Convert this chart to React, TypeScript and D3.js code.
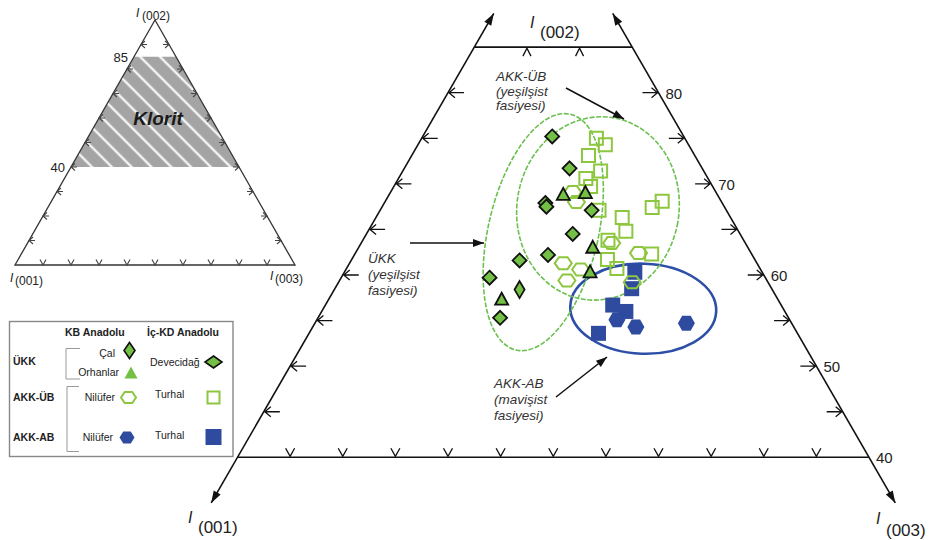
import React from 'react';
import * as d3 from 'd3';

type T3 = [number, number, number]; // [I(001), I(002), I(003)]

// ---- data ----
const calKB: T3[] = [[24.0, 58.4, 17.6]];
const orhanlarKB: T3[] = [
  [14.6, 68.9, 16.5], [12.4, 69.1, 18.5], [14.7, 63.1, 22.2], [16.3, 60.4, 23.3], [26.2, 57.4, 16.4],
];
const devecidagICKD: T3[] = [
  [12.5, 75.2, 12.3], [12.6, 71.7, 15.7], [16.8, 67.9, 15.3], [16.9, 67.5, 15.6], [12.8, 67.1, 20.1],
  [15.9, 64.5, 19.6], [19.4, 62.2, 18.4], [22.4, 61.6, 16.0], [26.2, 59.7, 14.1], [27.4, 55.3, 17.3],
];
const niluferUB: T3[] = [
  [13.6, 69.1, 17.3], [13.8, 68.0, 18.2], [12.7, 63.5, 23.8], [10.7, 62.4, 26.9],
  [18.4, 61.3, 20.3], [17.1, 60.6, 22.3], [19.0, 59.4, 21.6], [12.9, 59.2, 27.9],
];
const turhalUB: T3[] = [
  [8.4, 75.0, 16.6], [7.9, 74.3, 17.8], [10.1, 73.1, 16.8], [9.8, 71.4, 18.8], [11.6, 70.6, 17.8],
  [11.6, 69.7, 18.7], [12.1, 67.1, 20.8], [5.6, 68.1, 26.3], [6.9, 67.4, 25.7], [10.3, 66.3, 23.4],
  [10.7, 64.8, 24.5], [12.9, 63.8, 23.3], [14.0, 61.7, 24.3], [13.6, 60.7, 25.7], [9.5, 62.3, 28.2],
];
const turhalAB: T3[] = [
  [12.1, 60.3, 27.6], [13.3, 58.5, 28.2], [16.0, 56.7, 27.3], [15.1, 56.0, 28.9], [18.9, 53.6, 27.5],
];
const niluferAB: T3[] = [[16.4, 55.1, 28.5], [15.0, 54.3, 30.7], [10.0, 54.7, 35.3]];

const sideTicks = [45, 50, 55, 60, 65, 70, 75, 80];
const baseTicks = [5, 10, 15, 20, 25, 30, 35, 40, 45, 50, 55];
const topTicks = [5, 10];
const rightTickLabels = [40, 50, 60, 70, 80];
const insetTicks = [10, 20, 30, 40, 50, 60, 70, 80, 90];
const kloritBand = [40, 85];
const insetLevelLabels = [85, 40];
// group centres (ternary) for the field ellipses
const fieldUKK: T3 = [18.6, 64.7, 16.7];
const fieldUB: T3 = [12.1, 67.3, 20.6];
const fieldAB: T3 = [13.3, 56.3, 30.4];

// ---- scales ----
const xMain = d3.scaleLinear().domain([0, 100]).range([27, 1079.5]);
const yMain = d3.scaleLinear().domain([0, 100]).range([821.9, -89.6]);
const pMain = (t: T3): [number, number] => {
  const s = t[0] + t[1] + t[2];
  const b = (t[1] / s) * 100, c = (t[2] / s) * 100;
  return [xMain(c + b / 2), yMain(b)];
};
const xIn = d3.scaleLinear().domain([0, 100]).range([15, 295]);
const yIn = d3.scaleLinear().domain([0, 100]).range([265, 20]);
const pIn = (t: T3): [number, number] => {
  const s = t[0] + t[1] + t[2];
  const b = (t[1] / s) * 100, c = (t[2] / s) * 100;
  return [xIn(c + b / 2), yIn(b)];
};

// ---- symbols ----
const diamond = (w: number, h: number) => `M0,${-h / 2}L${w / 2},0L0,${h / 2}L${-w / 2},0Z`;
const hexagon = (w: number, h: number) =>
  `M${-w / 2},0L${-w / 4},${-h / 2}L${w / 4},${-h / 2}L${w / 2},0L${w / 4},${h / 2}L${-w / 4},${h / 2}Z`;
const triangle = (w: number, h: number) => `M0,${-h / 2}L${w / 2},${h / 2}L${-w / 2},${h / 2}Z`;
const square = (s: number) => `M${-s / 2},${-s / 2}h${s}v${s}h${-s}Z`;

const GREEN = '#74bf45';
const LGREEN = '#8dc63f';
const DGREEN = '#6cc04f';
const BLUE = '#2e4b9f';
const FONT = 'Liberation Sans, Arial, Helvetica, sans-serif';

function headPts(tip: [number, number], from: [number, number], len = 12, wid = 8) {
  const dx = tip[0] - from[0], dy = tip[1] - from[1];
  const L = Math.hypot(dx, dy);
  const ux = dx / L, uy = dy / L;
  const bx = tip[0] - ux * len, by = tip[1] - uy * len;
  const px = -uy * wid / 2, py = ux * wid / 2;
  return `${tip[0]},${tip[1]} ${bx + px},${by + py} ${bx - px},${by - py}`;
}

const Arrow = ({ a, b, both = false, len = 12, wid = 8, sw = 1.6 }: any) => (
  <g>
    <line x1={a[0]} y1={a[1]} x2={b[0]} y2={b[1]} stroke="#111" strokeWidth={sw} />
    <polygon points={headPts(b, a, len, wid)} fill="#111" />
    {both && <polygon points={headPts(a, b, len, wid)} fill="#111" />}
  </g>
);

export default function App() {
  const leftTop = pMain([100 - 88.7, 88.7, 0]);
  const leftBot = pMain([65, 35, 0]);
  const rightTop = pMain([0, 88.7, 100 - 88.7]);
  const rightBot = pMain([0, 35, 65]);
  const baseL = pMain([60, 40, 0]);
  const baseR = pMain([0, 40, 60]);
  const topL = pMain([15, 85, 0]);
  const topR = pMain([0, 85, 15]);
  const tk = { stroke: '#111', strokeWidth: 1.3, fill: 'none' } as const;

  const iA = pIn([0, 100, 0]), iL = pIn([100, 0, 0]), iR = pIn([0, 0, 100]);
  const band = [
    pIn([100 - kloritBand[0], kloritBand[0], 0]),
    pIn([0, kloritBand[0], 100 - kloritBand[0]]),
    pIn([0, kloritBand[1], 100 - kloritBand[1]]),
    pIn([100 - kloritBand[1], kloritBand[1], 0]),
  ];

  const ell = (t: T3, rx: number, ry: number, rot: number, stroke: string, dash?: string, sw = 1.5) => {
    const [cx, cy] = pMain(t);
    return (
      <ellipse cx={0} cy={0} rx={rx} ry={ry} transform={`translate(${cx},${cy}) rotate(${rot})`}
        fill="none" stroke={stroke} strokeWidth={sw} strokeDasharray={dash} />
    );
  };

  const pts = (data: T3[], d: string, fill: string, stroke: string, sw: number) =>
    data.map((t, i) => {
      const [x, y] = pMain(t);
      return <path key={i} d={d} transform={`translate(${x},${y})`} fill={fill} stroke={stroke} strokeWidth={sw} />;
    });

  const annot = (x: number, y: number, lines: string[], dy = 14.5) => (
    <text x={x} y={y} fontFamily={FONT} fontSize={13.5} fontStyle="italic" fill="#333">
      {lines.map((l, i) => (
        <tspan key={i} x={x} dy={i === 0 ? 0 : dy}>{l}</tspan>
      ))}
    </text>
  );

  return (
    <svg width={931} height={540} style={{ position: 'absolute', left: 0, top: 0, background: '#fff' }}>
      <defs>
        <pattern id="hatch" width="14" height="14" patternUnits="userSpaceOnUse" patternTransform="rotate(-45)">
          <rect width="14" height="14" fill="#a4a4a4" />
          <line x1="3" y1="0" x2="3" y2="14" stroke="#f4f4f4" strokeWidth="2.4" />
        </pattern>
      </defs>

      {/* ---------- INSET ---------- */}
      <polygon points={band.map((p) => p.join(',')).join(' ')} fill="url(#hatch)" />
      <polygon points={[iA, iL, iR].map((p) => p.join(',')).join(' ')} fill="none" stroke="#333" strokeWidth={1.3} />
      {insetTicks.map((v) => {
        const [lx, ly] = pIn([100 - v, v, 0]);
        const [rx, ry] = pIn([0, v, 100 - v]);
        const [bx, by] = pIn([100 - v, 0, v]);
        const st = { stroke: '#444', strokeWidth: 1.1, fill: 'none' } as const;
        return (
          <g key={v}>
            <path d={`M${lx + 4},${ly - 3.5}L${lx},${ly}L${lx + 4},${ly + 3.5}M${lx},${ly}h6`} {...st} />
            <path d={`M${rx - 4},${ry - 3.5}L${rx},${ry}L${rx - 4},${ry + 3.5}M${rx},${ry}h-6`} {...st} />
            <path d={`M${bx - 3},${by - 5.5}L${bx},${by}L${bx + 3},${by - 5.5}`} {...st} />
          </g>
        );
      })}
      {insetLevelLabels.map((v) => {
        const [x, y] = pIn([100 - v, v, 0]);
        return (
          <text key={v} x={x - 6} y={y + 5} textAnchor="end" fontFamily={FONT} fontSize={13} fill="#222">{v}</text>
        );
      })}
      <text x={158} y={125} textAnchor="middle" fontFamily={FONT} fontSize={19} fontWeight="bold" fontStyle="italic" fill="#1a1a1a">Klorit</text>
      <text x={136} y={17} fontFamily={FONT} fontSize={12} fontStyle="italic" fill="#222">I</text>
      <text x={142} y={20} fontFamily={FONT} fontSize={12} fill="#222">(002)</text>
      <text x={10} y={282} fontFamily={FONT} fontSize={12} fontStyle="italic" fill="#222">I</text>
      <text x={15} y={285} fontFamily={FONT} fontSize={12} fill="#222">(001)</text>
      <text x={270} y={280} fontFamily={FONT} fontSize={12} fontStyle="italic" fill="#222">I</text>
      <text x={275} y={283} fontFamily={FONT} fontSize={12} fill="#222">(003)</text>

      {/* ---------- LEGEND ---------- */}
      <rect x={9.5} y={321.5} width={223.5} height={135} fill="#fff" stroke="#888" strokeWidth={1.4} />
      <g fontFamily={FONT} fill="#222">
        <text x={65} y={336} fontSize={10.5} fontWeight="bold">KB Anadolu</text>
        <text x={147} y={336} fontSize={10.5} fontWeight="bold">İç-KD Anadolu</text>
        <text x={13} y={365} fontSize={10.5} fontWeight="bold">ÜKK</text>
        <text x={13} y={401} fontSize={10.5} fontWeight="bold">AKK-ÜB</text>
        <text x={13} y={441} fontSize={10.5} fontWeight="bold">AKK-AB</text>
        <text x={115} y={357} fontSize={10.5} textAnchor="end">Çal</text>
        <text x={119} y={376} fontSize={10.5} textAnchor="end">Orhanlar</text>
        <text x={115} y={401} fontSize={10.5} textAnchor="end">Nilüfer</text>
        <text x={113} y={441} fontSize={10.5} textAnchor="end">Nilüfer</text>
        <text x={150} y={366} fontSize={10.5}>Devecidağ</text>
        <text x={155} y={398} fontSize={10.5}>Turhal</text>
        <text x={155} y={439} fontSize={10.5}>Turhal</text>
      </g>
      <path d="M80,348.5H66V379H80" fill="none" stroke="#999" strokeWidth={1} />
      <path d="M79,386.5H67V451.5H79" fill="none" stroke="#999" strokeWidth={1} />
      <path d={diamond(11, 16)} transform="translate(129.5,350.5)" fill={GREEN} stroke="#111" strokeWidth={1.6} />
      <path d={triangle(13, 12)} transform="translate(131,372.5)" fill={GREEN} stroke="none" />
      <path d={diamond(17, 12)} transform="translate(213.5,362)" fill={GREEN} stroke="#111" strokeWidth={1.6} />
      <path d={hexagon(15, 11)} transform="translate(128.5,397.5)" fill="none" stroke={LGREEN} strokeWidth={2} />
      <path d={square(12)} transform="translate(213.5,397.5)" fill="none" stroke={LGREEN} strokeWidth={2} />
      <path d={hexagon(15, 12)} transform="translate(127,437.5)" fill={BLUE} />
      <path d={square(16)} transform="translate(213.5,437)" fill={BLUE} />

      {/* ---------- MAIN TERNARY ---------- */}
      <Arrow a={leftBot} b={leftTop} both sw={1.6} />
      <Arrow a={rightBot} b={rightTop} both sw={1.6} />
      <line x1={baseL[0]} y1={baseL[1]} x2={baseR[0]} y2={baseR[1]} stroke="#111" strokeWidth={1.6} />
      <line x1={topL[0]} y1={topL[1]} x2={topR[0]} y2={topR[1]} stroke="#111" strokeWidth={1.6} />

      {sideTicks.map((v) => {
        const [lx, ly] = pMain([100 - v, v, 0]);
        const [rx, ry] = pMain([0, v, 100 - v]);
        return (
          <g key={v}>
            <path d={`M${lx + 7},${ly - 5}L${lx + 1},${ly}L${lx + 7},${ly + 5}M${lx + 1},${ly}h15`} {...tk} />
            <path d={`M${rx - 7},${ry - 5}L${rx - 1},${ry}L${rx - 7},${ry + 5}M${rx - 1},${ry}h-15`} {...tk} />
          </g>
        );
      })}
      {baseTicks.map((v) => {
        const [x, y] = pMain([60 - v, 40, v]);
        return <path key={v} d={`M${x - 4.5},${y - 9}L${x},${y - 1}L${x + 4.5},${y - 9}`} {...tk} />;
      })}
      {topTicks.map((v) => {
        const [x, y] = pMain([15 - v, 85, v]);
        return <path key={v} d={`M${x - 4},${y + 9}L${x},${y + 1}L${x + 4},${y + 9}`} {...tk} />;
      })}
      {rightTickLabels.map((v) => {
        const [x, y] = pMain([0, v, 100 - v]);
        return (
          <text key={v} x={x + 7} y={y + 6} fontFamily={FONT} fontSize={15} fill="#222">{v}</text>
        );
      })}

      {/* axis titles */}
      <g fontFamily={FONT} fill="#222">
        <text x={530} y={28} fontSize={16} fontStyle="italic">I</text>
        <text x={540} y={38} fontSize={17}>(002)</text>
        <text x={188} y={523} fontSize={16} fontStyle="italic">I</text>
        <text x={198} y={533} fontSize={17}>(001)</text>
        <text x={876} y={524} fontSize={16} fontStyle="italic">I</text>
        <text x={886} y={536} fontSize={17}>(003)</text>
      </g>

      {/* fields */}
      {ell(fieldAB, 73, 45, 2, '#2d4fa8', undefined, 2.6)}
      {ell(fieldUKK, 55, 121, 13, DGREEN, '5 1.6', 1.6)}
      {ell(fieldUB, 81, 92, 10, DGREEN, '5 1.6', 1.6)}

      {/* points */}
      {pts(turhalAB, square(15), BLUE, 'none', 0)}
      {pts(niluferAB, hexagon(17, 15), BLUE, 'none', 0)}
      {pts(turhalUB, square(13), 'none', LGREEN, 2)}
      {pts(niluferUB, hexagon(17, 12), 'none', LGREEN, 2)}
      {pts(devecidagICKD, diamond(14, 14), GREEN, '#111', 1.8)}
      {pts(calKB, diamond(10, 17), GREEN, '#111', 1.8)}
      {pts(orhanlarKB, triangle(13, 12), GREEN, '#111', 1.8)}

      {/* annotations */}
      {annot(496, 81, ['AKK-ÜB', '(yeşilşist', 'fasiyesi)'], 14.5)}
      <Arrow a={[566, 88]} b={[624, 119]} len={11} wid={8} sw={1.5} />
      {annot(368, 263, ['ÜKK', '(yeşilşist', 'fasiyesi)'], 16)}
      <Arrow a={[410, 243]} b={[484, 243]} len={11} wid={8} sw={1.5} />
      {annot(494, 388, ['AKK-AB', '(mavişist', 'fasiyesi)'], 16)}
      <Arrow a={[556, 397]} b={[607, 357]} len={11} wid={8} sw={1.5} />
    </svg>
  );
}
